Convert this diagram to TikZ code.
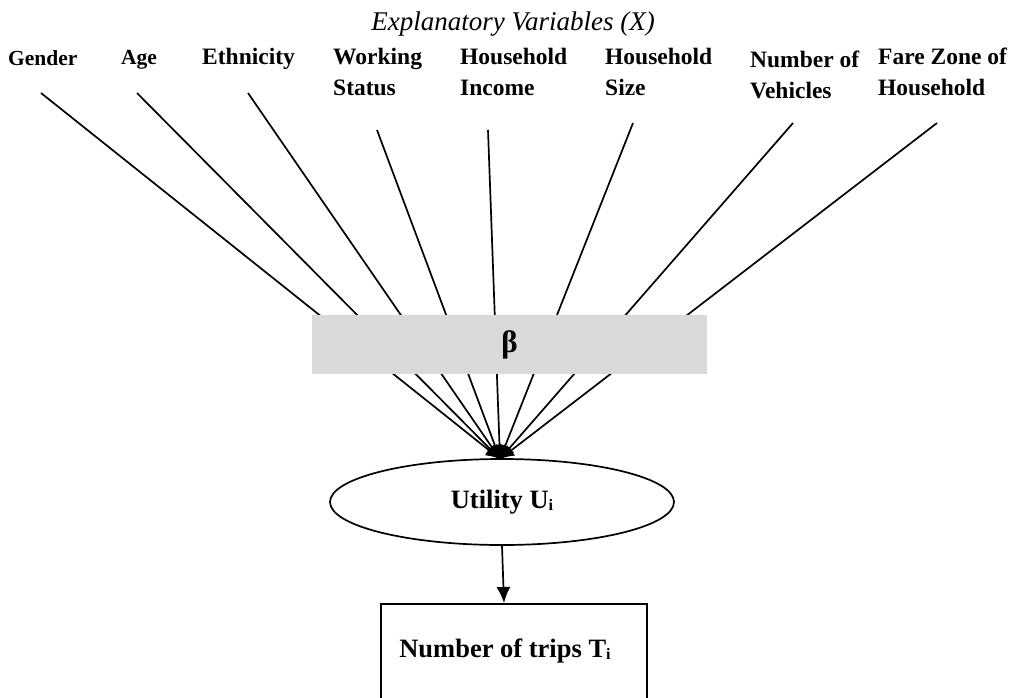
\documentclass[tikz,border=0pt]{standalone}
\usepackage{fontspec}
\setmainfont{Liberation Serif}
\usetikzlibrary{arrows.meta,shapes.geometric}
\newcommand{\smallsub}[1]{{\fontsize{16}{16}\selectfont\raisebox{-2pt}{#1}}}
\begin{document}
\begin{tikzpicture}[x=1pt,y=-1pt,
  lab/.style={font=\fontsize{23.5}{31}\selectfont\bfseries, align=left, anchor=north west, inner sep=0pt},
  labsmall/.style={lab, font=\fontsize{21.5}{31}\selectfont\bfseries},
  fan/.style={line width=1.7pt, -{Latex[length=14pt,width=13pt]}},
  conn/.style={line width=1.7pt, -{Latex[length=16pt,width=14pt]}},
  inner/.style={font=\fontsize{26.5}{28}\selectfont\bfseries, inner sep=0pt},
]
\useasboundingbox (0,0) rectangle (1015,697);
\clip (0,0) rectangle (1015,697);

% title
\node[font=\fontsize{27}{30}\selectfont\itshape, inner sep=0pt, anchor=north] (title) at (513,12) {Explanatory Variables (X)};

% labels
\node[labsmall] (gender) at (8,50) {Gender};
\node[labsmall] (age) at (121,50) {Age};
\node[lab] (eth) at (202,48) {Ethnicity};
\node[lab] (work) at (333,48) {Working\\Status};
\node[lab] (inc) at (460,48) {Household\\Income};
\node[lab] (size) at (605,48) {Household\\Size};
\node[lab] (veh) at (750,51) {Number of\\Vehicles};
\node[lab] (fare) at (878,48) {Fare Zone of\\Household};

% line start points
\coordinate (sGender) at (41,93);
\coordinate (sAge) at (137,93);
\coordinate (sEth) at (248,93);
\coordinate (sWork) at (377,130);
\coordinate (sInc) at (488,130);
\coordinate (sSize) at (633,123);
\coordinate (sVeh) at (793,123);
\coordinate (sFare) at (937,123);
\coordinate (hub) at (500,459);

\foreach \s in {sGender,sAge,sEth,sWork,sInc,sSize,sVeh,sFare}
  \draw[fan] (\s) -- (hub);

% beta box
\node[fill={rgb,255:red,217;green,217;blue,217}, minimum width=395pt, minimum height=59pt, inner sep=0pt,
      font=\fontsize{31}{31}\selectfont\bfseries] (beta) at (509.5,344.5) {β};

% utility ellipse
\node[ellipse, draw, line width=1.7pt, minimum width=344pt, minimum height=86pt, inner sep=0pt, inner] (U) at (502,502) {Utility U\smallsub{i}};

% trips box
\node[draw, line width=1.7pt, minimum width=266pt, minimum height=130pt, anchor=north, inner sep=0pt] (T) at (514,603) {};
\node[inner] (Tl) at (505,651) {Number of trips T\smallsub{i}};

\coordinate (tTop) at (504,603);
\draw[conn] (U.south) -- (tTop);
\end{tikzpicture}
\end{document}
